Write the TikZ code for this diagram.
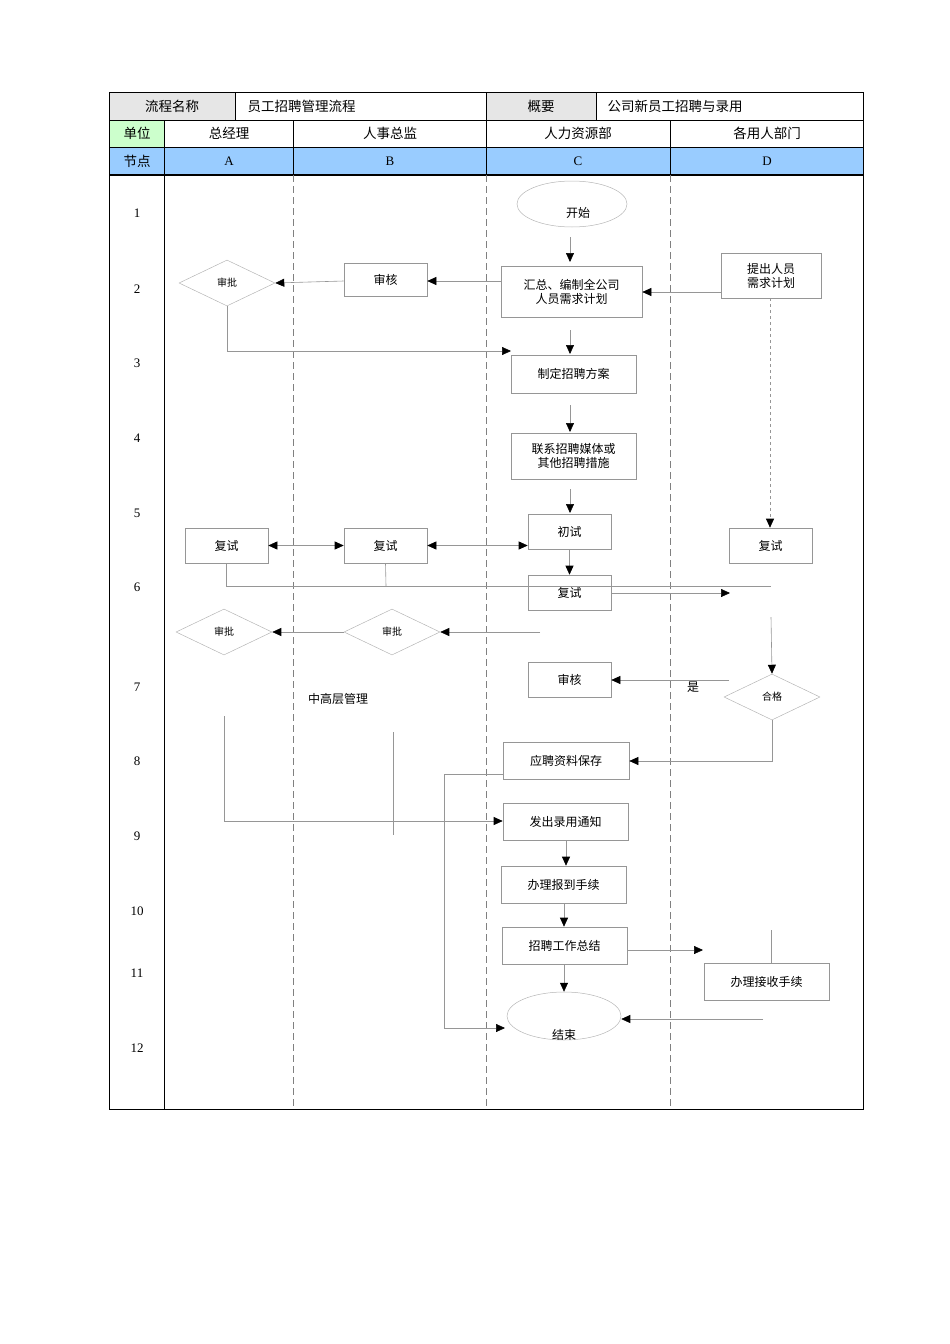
\documentclass[tikz,border=0pt]{standalone}
\usepackage{fontspec}
\setmainfont{Liberation Serif}
\newfontfamily\cjk{Noto Sans CJK SC}
\usetikzlibrary{shapes.geometric,arrows.meta}
\definecolor{hdrgray}{RGB}{230,230,230}
\definecolor{hdrgreen}{RGB}{204,255,204}
\definecolor{hdrblue}{RGB}{153,204,255}
\definecolor{ln}{RGB}{150,150,150}
\begin{document}
\begin{tikzpicture}[x=1pt,y=-1pt,
  font=\cjk\fontsize{12}{14}\selectfont,
  pbox/.style={draw=ln,line width=0.6pt,rectangle,inner sep=0pt,align=center},
  pdia/.style={draw=ln!70,line width=0.5pt,diamond,aspect=2,minimum width=96pt,minimum height=46pt,inner sep=0pt,font=\cjk\fontsize{10}{12}\selectfont},
  pell/.style={draw=ln!70,line width=0.5pt,ellipse,inner sep=0pt},
  fl/.style={draw=ln,line width=0.6pt},
  ar/.style={fl,-{Triangle[length=9pt,width=8pt,color=black]}},
  dar/.style={fl,{Triangle[length=9pt,width=8pt,color=black]}-{Triangle[length=9pt,width=8pt,color=black]}},
  hd/.style={font=\cjk\fontsize{13.5}{15}\selectfont}]
\useasboundingbox (0,0) rectangle (950,1344);
% header fills
\fill[hdrgray] (109,92) rectangle (235,120);
\fill[hdrgray] (486,92) rectangle (596,120);
\fill[hdrgreen] (109,120) rectangle (164,147);
\fill[hdrblue] (109,147) rectangle (863,175);
% table lines
\draw[line width=0.8pt] (109,92) rectangle (863,1109);
\draw[line width=0.8pt] (109,120)--(863,120) (109,147)--(863,147);
\draw[line width=1.2pt] (109,175)--(863,175);
\draw[line width=0.8pt] (235,92)--(235,120) (486,92)--(486,120) (596,92)--(596,120);
\draw[line width=0.8pt] (164,120)--(164,1109) (293,120)--(293,175) (486,120)--(486,175) (670,120)--(670,175);
\draw[line width=0.9pt,dash pattern=on 7pt off 4pt,gray] (293,175)--(293,1109) (486,175)--(486,1109) (670,175)--(670,1109);
% header texts
\node[hd] (h1) at (172,106) {流程名称};
\node[hd,anchor=west] (h2) at (244,106) {员工招聘管理流程};
\node[hd] (h3) at (541,106) {概要};
\node[hd,anchor=west] (h4) at (604,106) {公司新员工招聘与录用};
\node[hd] (u0) at (137,133) {单位};
\node[hd] (u1) at (229,133) {总经理};
\node[hd] (u2) at (390,133) {人事总监};
\node[hd] (u3) at (578,133) {人力资源部};
\node[hd] (u4) at (767,133) {各用人部门};
\node[hd] (n0) at (137,161) {节点};
\node[font=\fontsize{13}{15}\selectfont] (nA) at (229,161) {A};
\node[font=\fontsize{13}{15}\selectfont] (nB) at (390,161) {B};
\node[font=\fontsize{13}{15}\selectfont] (nC) at (578,161) {C};
\node[font=\fontsize{13}{15}\selectfont] (nD) at (767,161) {D};
% row numbers
\foreach \n/\y in {1/213,2/289,3/363,4/438,5/513,6/587,7/687,8/761,9/836,10/911,11/973,12/1048}
  \node[font=\fontsize{13}{15}\selectfont] (r\n) at (137,\y) {\n};
% shapes
\node[pell,minimum width=110pt,minimum height=46pt] (start) at (572,204) {};
\node (starttxt) at (578,213) {开始};
\node[pbox,minimum width=141pt,minimum height=51pt] (sum) at (571.5,291.5) {汇总、编制全公司\\人员需求计划};
\node[pbox,minimum width=100pt,minimum height=45pt] (need) at (771,275.5) {提出人员\\需求计划};
\node[pbox,minimum width=83pt,minimum height=33pt,anchor=north] (shB) at (385.5,263) {审核};
\node[pdia] (spA) at (227,283) {审批};
\node[pbox,minimum width=125pt,minimum height=38pt] (plan) at (573.5,374) {制定招聘方案};
\node[pbox,minimum width=125pt,minimum height=46pt] (media) at (573.5,456) {联系招聘媒体或\\其他招聘措施};
\node[pbox,minimum width=83pt,minimum height=35pt] (cs) at (569.5,531.5) {初试};
\node[pbox,minimum width=83pt,minimum height=35pt] (fsA) at (226.5,545.5) {复试};
\node[pbox,minimum width=83pt,minimum height=35pt] (fsB) at (385.5,545.5) {复试};
\node[pbox,minimum width=83pt,minimum height=35pt] (fsD) at (770.5,545.5) {复试};
\node[pbox,minimum width=83pt,minimum height=35pt] (fsC) at (569.5,592.5) {复试};
\node[pdia] (spA2) at (224,632) {审批};
\node[pdia] (spB2) at (392,632) {审批};
\node[pdia] (hg) at (772,697) {合格};
\node[pbox,minimum width=83pt,minimum height=35pt] (shC) at (569.5,679.5) {审核};
\node (yes) at (693,687) {是};
\node (mgr) at (338,699) {中高层管理};
\node[pbox,minimum width=126pt,minimum height=37pt] (save) at (566,760.5) {应聘资料保存};
\node[pbox,minimum width=125pt,minimum height=37pt] (notice) at (565.5,821.5) {发出录用通知};
\node[pbox,minimum width=125pt,minimum height=37pt] (report) at (563.5,884.5) {办理报到手续};
\node[pbox,minimum width=125pt,minimum height=37pt] (summ) at (564.5,945.5) {招聘工作总结};
\node[pbox,minimum width=125pt,minimum height=37pt] (recv) at (766.5,981.5) {办理接收手续};
\node[pell,minimum width=114pt,minimum height=48pt] (end) at (564,1016) {};
\node (endtxt) at (564,1035) {结束};
% free-end coordinates
\coordinate (a1) at (570,237);
\coordinate (a2) at (570,262);
\coordinate (b1) at (570,330);
\coordinate (b2) at (570,354);
\coordinate (c1) at (570,405);
\coordinate (c2) at (570,432);
\coordinate (d1) at (570,489);
\coordinate (d2) at (570,513);
\coordinate (e1) at (540,632);
\coordinate (f1) at (771,617);
\coordinate (g1) at (729,680);
\coordinate (h1c) at (771,586);
\coordinate (i1) at (224,716);
\coordinate (j1) at (393,732);
\coordinate (j2) at (393,835);
\coordinate (k1) at (763,1019);
\coordinate (l1) at (771,930);
\coordinate (m1) at (730,593);
\coordinate (n1) at (703,950);
% connectors
\draw[ar] (a1)--(a2);
\draw[ar] (need.west|-0,292)--(sum.east|-0,292);
\draw[ar] (sum.west|-0,281)--(shB.east|-0,281);
\draw[ar] (shB.west|-0,281)--(spA.east);
\draw[ar] (spA.south)|-(511,351);
\draw[ar] (b1)--(b2);
\draw[fl,dashed,-{Triangle[length=9pt,width=8pt,color=black]}] (need.south-|770,0)--(fsD.north-|770,0);
\draw[ar] (c1)--(c2);
\draw[ar] (d1)--(d2);
\draw[dar] (fsA.east)--(fsB.west);
\draw[dar] (fsB.east)--(fsC.west|-0,545.5);
\draw[ar] (cs.south)--(fsC.north);
\draw[fl] (fsA.south)|-(h1c);
\draw[fl] (fsB.south)--(386,586);
\draw[ar] (fsC.east|-0,593)--(m1);
\draw[ar] (e1)--(spB2.east);
\draw[ar] (spB2.west)--(spA2.east);
\draw[ar] (f1)--(hg.north);
\draw[ar] (g1)--(shC.east|-0,680);
\draw[ar] (hg.south)|-(save.east|-0,761);
\draw[ar] (i1)|-(notice.west|-0,821);
\draw[fl] (j1)--(j2);
\draw[ar] (save.west|-0,774)-|(444,1028)--(505,1028);
\draw[ar] (notice.south-|566,0)--(report.north-|566,0);
\draw[ar] (report.south-|564,0)--(summ.north-|564,0);
\draw[ar] (summ.east|-0,950)--(n1);
\draw[fl] (l1)--(recv.north-|771,0);
\draw[ar] (summ.south-|564,0)--(end.north-|564,0);
\draw[ar] (k1)--(end.east|-0,1019);
\end{tikzpicture}
\end{document}
